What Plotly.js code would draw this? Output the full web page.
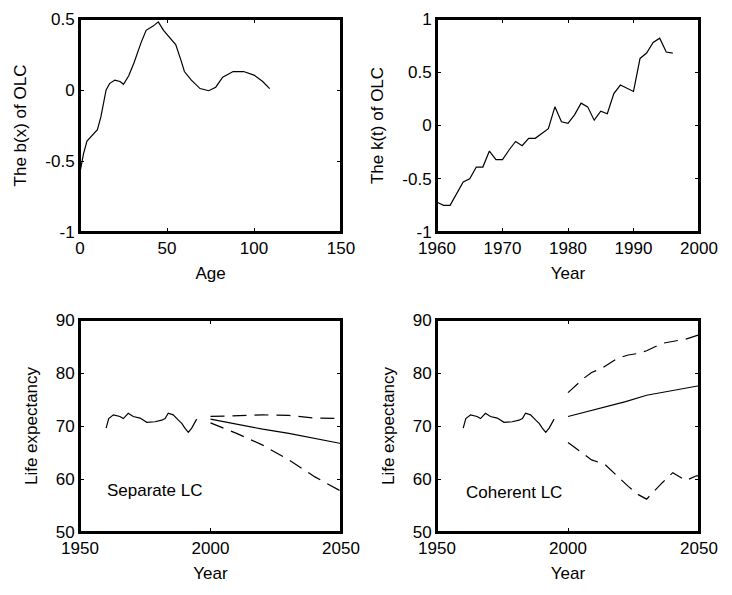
<!DOCTYPE html>
<html>
<head>
<meta charset="utf-8">
<script src="https://cdn.plot.ly/plotly-3.0.1.min.js"></script>
<style>
  html, body { margin: 0; padding: 0; background: #fff; }
  #wrap { position: relative; width: 732px; height: 595px; }
  .panel { position: absolute; width: 366px; }
  #bxDiv { left: 0; top: 0; height: 297px; }
  #ktDiv { left: 366px; top: 0; height: 297px; }
  #sepDiv { left: 0; top: 297px; height: 298px; }
  #cohDiv { left: 366px; top: 297px; height: 298px; }
</style>
</head>
<body>
<div id="wrap">
  <div class="panel" id="bxDiv"></div>
  <div class="panel" id="ktDiv"></div>
  <div class="panel" id="sepDiv"></div>
  <div class="panel" id="cohDiv"></div>
</div>
<script>
// b(x) of OLC by age
var ages = [0, 2, 4, 7, 10, 12, 15, 17, 20, 23, 25, 28, 31, 35, 38, 42, 45, 48, 52, 55, 58, 60, 64, 69, 74, 78, 82, 88, 94, 100, 105, 109];
var bx = [-0.58, -0.45, -0.36, -0.32, -0.28, -0.19, 0.0, 0.045, 0.07, 0.06, 0.04, 0.10, 0.19, 0.33, 0.42, 0.45, 0.48, 0.42, 0.36, 0.32, 0.21, 0.13, 0.07, 0.01, -0.005, 0.02, 0.09, 0.13, 0.13, 0.105, 0.06, 0.01];

// k(t) of OLC by year
var ktYears = [1960, 1961, 1962, 1963, 1964, 1965, 1966, 1967, 1968, 1969, 1970, 1971, 1972, 1973, 1974, 1975, 1976, 1977, 1978, 1979, 1980, 1981, 1982, 1983, 1984, 1985, 1986, 1987, 1988, 1989, 1990, 1991, 1992, 1993, 1994, 1995, 1996];
var kt = [-0.72, -0.75, -0.75, -0.64, -0.53, -0.5, -0.39, -0.39, -0.24, -0.32, -0.32, -0.23, -0.15, -0.19, -0.12, -0.12, -0.075, -0.03, 0.175, 0.035, 0.02, 0.1, 0.21, 0.175, 0.05, 0.135, 0.11, 0.3, 0.38, 0.35, 0.32, 0.63, 0.68, 0.78, 0.82, 0.69, 0.68];

// observed life expectancy (both lower panels)
var histYears = [1960, 1961, 1962.8, 1965.3, 1966.6, 1968.5, 1970.4, 1973, 1975.6, 1978.7, 1981.3, 1982.6, 1983.8, 1985.7, 1987.7, 1989, 1990.2, 1991.5, 1992.8, 1994.7];
var histE0 = [69.6, 71.4, 72.1, 71.8, 71.4, 72.4, 71.8, 71.5, 70.7, 70.8, 71.1, 71.4, 72.4, 72.1, 71.1, 70.5, 69.6, 68.8, 69.6, 71.3];

// separate LC forecast
var sepYears = [2000, 2010, 2020, 2030, 2040, 2050];
var sepUpper = [71.8, 72.0, 72.1, 72.0, 71.5, 71.4];
var sepMid = [71.3, 70.3, 69.4, 68.6, 67.6, 66.7];
var sepLower = [70.6, 68.6, 66.4, 63.6, 60.4, 57.7];

// coherent LC forecast
var cohUpperYears = [2000, 2006, 2009, 2013, 2019, 2023, 2027, 2030, 2036, 2040, 2045, 2050];
var cohUpper = [76.3, 79.0, 80.1, 80.9, 82.8, 83.4, 83.7, 84.2, 85.6, 86.0, 86.4, 87.2];
var cohMidYears = [2000, 2012, 2022, 2030, 2040, 2050];
var cohMid = [71.8, 73.3, 74.6, 75.8, 76.7, 77.6];
var cohLowerYears = [2000, 2009, 2014, 2023, 2027, 2030, 2036, 2040, 2045, 2049, 2050];
var cohLower = [66.9, 63.6, 62.8, 58.6, 57.0, 56.2, 59.3, 61.2, 59.7, 60.6, 60.6];

// ticks (plain hyphen minus, as in the original)
var ageTicks = [0, 50, 100, 150];
var bxTicks = [-1, -0.5, 0, 0.5];
var bxLabels = ['-1', '-0.5', '0', '0.5'];
var ktYearTicks = [1960, 1970, 1980, 1990, 2000];
var ktTicks = [-1, -0.5, 0, 0.5, 1];
var ktLabels = ['-1', '-0.5', '0', '0.5', '1'];
var e0YearTicks = [1950, 2000, 2050];
var e0Ticks = [50, 60, 70, 80, 90];

var FONT = 'Liberation Sans, Arial, sans-serif';
var dashPat = '14px,8px';
var config = { displayModeBar: false };

function line(x, y, dash) {
    return {
        x: x, y: y,
        type: 'scatter', mode: 'lines',
        line: { color: 'black', width: 1.2, dash: dash || 'solid' }
    };
}

// labelled axis
function axis(range, tickvals, ticktext, title, isY) {
    var a = {
        range: range, automargin: false,
        tickmode: 'array', tickvals: tickvals,
        ticks: 'inside', ticklen: 4,
        showline: true, linewidth: 2, linecolor: 'black', mirror: 'ticks',
        showgrid: false, zeroline: false,
        tickfont: { family: FONT, size: 17, color: 'black' },
        title: { text: title, standoff: isY ? 14 : 10, font: { family: FONT, size: 17, color: 'black' } }
    };
    if (ticktext) a.ticktext = ticktext;
    return a;
}

// unlabelled twin axis that only carries the inside tick marks on all four sides
function tickAxis(range, tickvals, over, anchor) {
    return {
        range: range, overlaying: over, anchor: anchor, automargin: false,
        tickmode: 'array', tickvals: tickvals,
        ticks: 'inside', ticklen: 4, tickwidth: 1, tickcolor: 'black',
        mirror: 'ticks', showline: false, showticklabels: false,
        showgrid: false, zeroline: false
    };
}

function panel(margin, xr, xt, xtt, xtitle, yr, yt, ytt, ytitle, note) {
    var lay = {
        margin: margin,
        showlegend: false,
        paper_bgcolor: 'white', plot_bgcolor: 'white',
        xaxis: axis(xr, xt, xtt, xtitle, false),
        yaxis: axis(yr, yt, ytt, ytitle, true),
        xaxis2: tickAxis(xr, xt, 'x', 'y2'),
        yaxis2: tickAxis(yr, yt, 'y', 'x2'),
        // frame round the plot area
        shapes: [{ type: 'rect', xref: 'x domain', yref: 'y domain', x0: 0, x1: 1, y0: 0, y1: 1,
                   line: { color: 'black', width: 2 }, layer: 'above' }]
    };
    if (note) {
        lay.annotations = [{ xref: 'x', yref: 'y', x: note[1], y: note[2], text: note[0],
            showarrow: false, xanchor: 'left', font: { family: FONT, size: 17, color: 'black' } }];
    }
    return lay;
}

// empty trace so the tick-only twin axes get drawn
var twin = { x: [], y: [], xaxis: 'x2', yaxis: 'y2', type: 'scatter', mode: 'lines' };

Plotly.newPlot('bxDiv', [line(ages, bx), twin],
    panel({ l: 80, r: 25, t: 19, b: 65 },
        [0, 150], ageTicks, null, 'Age',
        [-1, 0.5], bxTicks, bxLabels, 'The b(x) of OLC'), config);

Plotly.newPlot('ktDiv', [line(ktYears, kt), twin],
    panel({ l: 71, r: 33, t: 19, b: 65 },
        [1960, 2000], ktYearTicks, null, 'Year',
        [-1, 1], ktTicks, ktLabels, 'The k(t) of OLC'), config);

Plotly.newPlot('sepDiv', [
        line(histYears, histE0),
        line(sepYears, sepUpper, dashPat),
        line(sepYears, sepMid),
        line(sepYears, sepLower, dashPat),
        twin
    ],
    panel({ l: 80, r: 25, t: 23, b: 63 },
        [1950, 2050], e0YearTicks, null, 'Year',
        [50, 90], e0Ticks, null, 'Life expectancy',
        ['Separate LC', 1959.6, 57.9]), config);

Plotly.newPlot('cohDiv', [
        line(histYears, histE0),
        line(cohUpperYears, cohUpper, dashPat),
        line(cohMidYears, cohMid),
        line(cohLowerYears, cohLower, dashPat),
        twin
    ],
    panel({ l: 71, r: 33, t: 23, b: 63 },
        [1950, 2050], e0YearTicks, null, 'Year',
        [50, 90], e0Ticks, null, 'Life expectancy',
        ['Coherent LC', 1960.3, 57.5]), config);
</script>
</body>
</html>
